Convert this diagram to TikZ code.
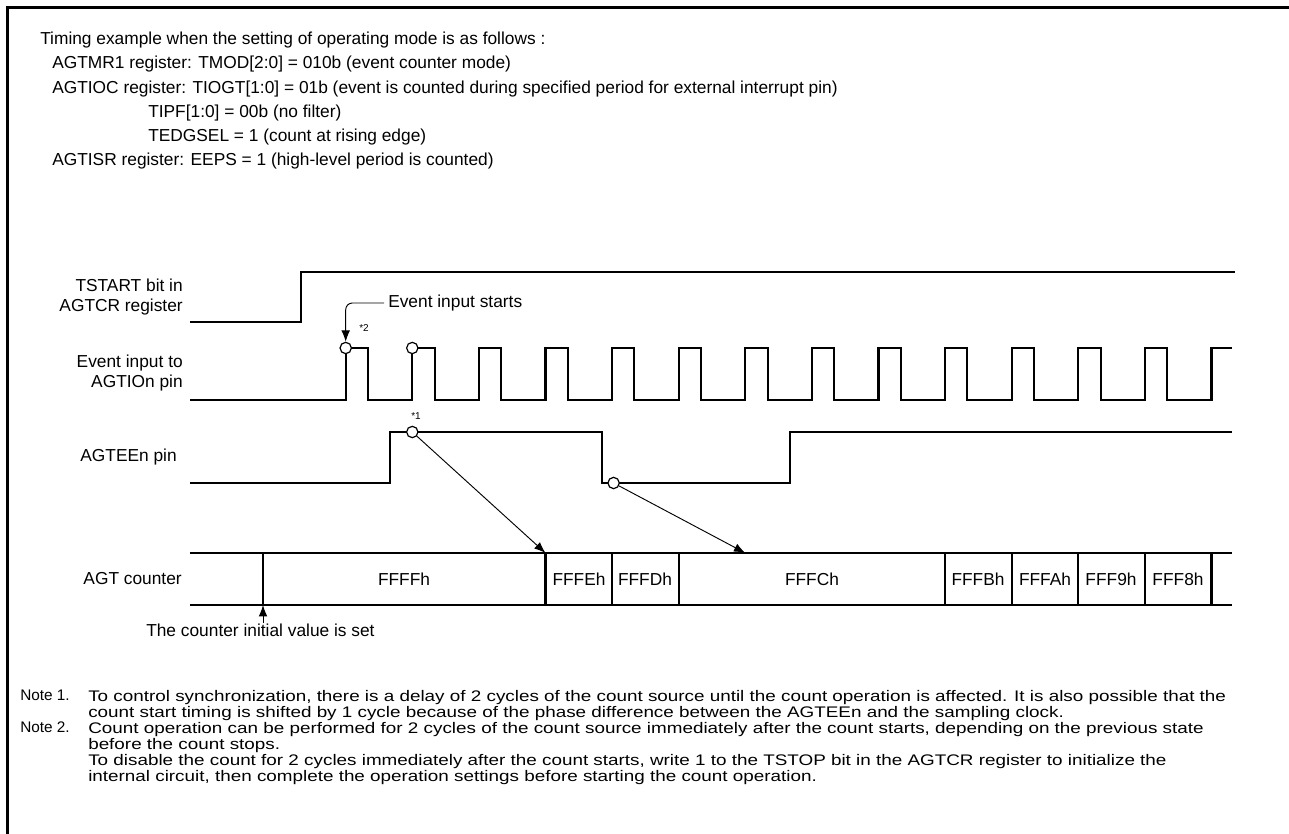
\documentclass[tikz,border=0pt]{standalone}
\usepackage{fontspec}
\setmainfont{Liberation Sans}
\newfontfamily\widefont{Liberation Sans}[FakeStretch=1.23]
\usetikzlibrary{positioning,arrows.meta}

\begin{document}
\begin{tikzpicture}[
x=0.75pt,y=-0.75pt,
every node/.style={
inner sep=0pt,
font=\fontsize{13pt}{15pt}\selectfont
},
head/.style={anchor=west},
notenum/.style={anchor=north west,font=\fontsize{11.5pt}{12pt}\selectfont},
note/.style={anchor=north west,align=left,
font=\widefont\fontsize{11.5pt}{12pt}\selectfont},
sig/.style={line width=1.6pt},
lbl/.style={anchor=east,align=right},
dot/.style={circle,draw,fill=white,line width=0.9pt,minimum size=8.5pt},
star/.style={font=\fontsize{7.5pt}{8pt}\selectfont},
arr/.style={-{Latex[length=8.5pt,width=6.5pt]},line width=0.7pt}
]
\useasboundingbox (0,0) rectangle (1289,834);
\draw[line width=2.25pt] (7,834) -- (7,8) -- (1289,8);

% settings
\node[head] (h0) at (40,40) {Timing example when the setting of operating mode is as follows :};
\node[head] (h1) at (52,64) {AGTMR1 register: TMOD[2:0] = 010b (event counter mode)};
\node[head] (h2) at (52,89) {AGTIOC register: TIOGT[1:0] = 01b (event is counted during specified period for external interrupt pin)};
\node[head] (h3) at (148,113) {TIPF[1:0] = 00b (no filter)};
\node[head] (h4) at (148,137) {TEDGSEL = 1 (count at rising edge)};
\node[head] (h5) at (52,161) {AGTISR register: EEPS = 1 (high-level period is counted)};

% signal names
\node[lbl] (tstart) at (183,297) {TSTART bit in\\AGTCR register};
\node[lbl] (evin) at (183,373) {Event input to\\AGTIOn pin};
\node[lbl] (agtee) at (177,457) {AGTEEn pin};
\node[lbl] (cnt) at (182,579) {AGT counter};

% TSTART
\draw[sig] (190,322) -- (301,322) -- (301,272) -- (1235,272);

% event input
\draw[sig] (190,400) foreach \k in {0,...,12} {
-- ({345.7+66.6*\k},400) -- ++(0,-52) -- ++(22.3,0) -- ++(0,52)}
-- (1211.5,400) -- (1211.5,348) -- (1232,348);
\node[dot] (ev1) at (345.7,348) {};
\node[dot] (ev2) at (412.3,348) {};
\node[star] at (364,328) {*2};
\node[anchor=west,inner sep=3pt] (evstart) at (384,303) {Event input starts};
\draw[arr,rounded corners=5pt] (evstart.west) -| (ev1.north);

% AGTEEn
\draw[sig] (190,483) -- (390,483) -- (390,432) -- (602,432) -- (602,483)
-- (790,483) -- (790,432) -- (1232,432);
\node[dot] (ee1) at (412.3,432) {};
\node[dot] (ee2) at (613.6,483) {};
\node[star] at (416,416) {*1};

% AGT counter
\draw[sig] (190,553) -- (1232,553);
\draw[sig] (190,605) -- (1232,605);
\foreach \x in {263,545.5,612,678.7,945,1011.7,1078.3,1145,1211.5}
\draw[sig] (\x,553) -- (\x,605);
\node (v0) at (404,579) {FFFFh};
\node (v1) at (579,579) {FFFEh};
\node (v2) at (645,579) {FFFDh};
\node (v3) at (812,579) {FFFCh};
\node (v4) at (978,579) {FFFBh};
\node (v5) at (1045,579) {FFFAh};
\node (v6) at (1111,579) {FFF9h};
\node (v7) at (1178,579) {FFF8h};

\coordinate (c1) at (545.5,553);
\coordinate (c2) at (745.3,553);
\draw[arr] (ee1) -- (c1);
\draw[arr] (ee2) -- (c2);

\coordinate (cinit) at (263,605);
\coordinate (cbase) at (263,623);
\draw[arr] (cbase) -- (cinit);
\node[anchor=west] (init) at (146,630) {The counter initial value is set};

% notes
\node[notenum] (n1) at (20,690) {Note 1.};
\node[note] (t1) at (88,690) {To control synchronization, there is a delay of 2 cycles of the count source until the count operation is affected. It is also possible that the\\
count start timing is shifted by 1 cycle because of the phase difference between the AGTEEn and the sampling clock.};
\node[notenum] (n2) at (20,722) {Note 2.};
\node[note] (t2) at (88,722) {Count operation can be performed for 2 cycles of the count source immediately after the count starts, depending on the previous state\\
before the count stops.\\
To disable the count for 2 cycles immediately after the count starts, write 1 to the TSTOP bit in the AGTCR register to initialize the\\
internal circuit, then complete the operation settings before starting the count operation.};
\end{tikzpicture}
\end{document}
